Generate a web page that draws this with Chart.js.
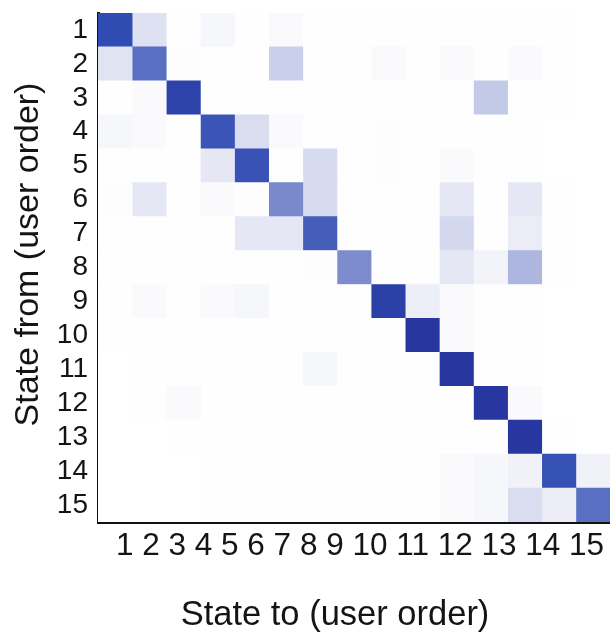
<!DOCTYPE html>
<html>
<head>
<meta charset="utf-8">
<script src="https://cdn.jsdelivr.net/npm/chart.js@4.4.1/dist/chart.umd.min.js"></script>
<style>
  html, body { margin: 0; padding: 0; background: #ffffff; }
  #wrap { width: 610px; height: 633px; position: relative; }
</style>
</head>
<body>
<div id="wrap"><canvas id="c"></canvas></div>
<script>
// ---- Data ----
const stateLabels = ['1','2','3','4','5','6','7','8','9','10','11','12','13','14','15'];
const xTickLabels = ['1','2','3','4','5','6','7','8','9','10','11','12','13','14','15'];
const yTickLabels = ['1','2','3','4','5','6','7','8','9','10','11','12','13','14','15'];
const xTitle = 'State to (user order)';
const yTitle = 'State from (user order)';

// transition intensity, row = state from, columns = state to 1..15
const from1  = [0.88,0.13,0.01,0.04,0.01,0.03,0.01,0.01,0.01,0.01,0.01,0.01,0.01,0.01,0.00];
const from2  = [0.12,0.68,0.02,0.01,0.01,0.22,0.01,0.01,0.03,0.01,0.03,0.01,0.03,0.01,0.00];
const from3  = [0.01,0.03,0.92,0.01,0.01,0.01,0.01,0.01,0.01,0.01,0.01,0.25,0.01,0.01,0.00];
const from4  = [0.04,0.03,0.01,0.83,0.15,0.03,0.01,0.01,0.02,0.01,0.01,0.01,0.01,0.00,0.00];
const from5  = [0.01,0.01,0.01,0.10,0.84,0.01,0.16,0.01,0.02,0.01,0.03,0.01,0.01,0.00,0.00];
const from6  = [0.02,0.10,0.01,0.03,0.02,0.52,0.16,0.01,0.01,0.01,0.10,0.01,0.10,0.01,0.00];
const from7  = [0.01,0.01,0.01,0.01,0.10,0.10,0.78,0.01,0.01,0.01,0.18,0.01,0.08,0.01,0.00];
const from8  = [0.01,0.01,0.01,0.01,0.01,0.01,0.02,0.50,0.01,0.01,0.10,0.05,0.33,0.01,0.00];
const from9  = [0.01,0.03,0.01,0.03,0.04,0.01,0.01,0.01,0.93,0.07,0.03,0.01,0.01,0.00,0.00];
const from10 = [0.01,0.01,0.01,0.01,0.01,0.01,0.01,0.01,0.01,0.98,0.03,0.01,0.01,0.00,0.00];
const from11 = [0.00,0.01,0.01,0.01,0.01,0.01,0.04,0.01,0.01,0.01,0.98,0.01,0.01,0.00,0.00];
const from12 = [0.00,0.01,0.03,0.01,0.01,0.01,0.01,0.01,0.01,0.01,0.01,0.98,0.03,0.00,0.00];
const from13 = [0.00,0.00,0.01,0.01,0.01,0.01,0.01,0.01,0.01,0.01,0.01,0.01,0.98,0.01,0.00];
const from14 = [0.00,0.00,0.00,0.01,0.01,0.01,0.01,0.01,0.01,0.01,0.03,0.04,0.06,0.85,0.06];
const from15 = [0.00,0.00,0.00,0.01,0.01,0.01,0.01,0.01,0.01,0.01,0.03,0.04,0.15,0.08,0.68];

const matrix = [from1,from2,from3,from4,from5,from6,from7,from8,from9,from10,from11,from12,from13,from14,from15];

// ---- Colour map: white -> dark blue ----
const cmapStops = [
  [0.00, [255,255,255]],
  [0.02, [253,253,254]],
  [0.05, [243,244,250]],
  [0.10, [229,231,244]],
  [0.25, [195,202,232]],
  [0.50, [125,140,205]],
  [0.70, [ 85,108,192]],
  [0.88, [ 48, 76,178]],
  [1.00, [ 38, 50,155]]
];
function cmap(v) {
  v = Math.max(0, Math.min(1, v));
  for (let i = 1; i < cmapStops.length; i++) {
    const [t1, c1] = cmapStops[i];
    const [t0, c0] = cmapStops[i-1];
    if (v <= t1) {
      const f = (v - t0) / (t1 - t0);
      const c = c0.map((a, k) => Math.round(a + (c1[k] - a) * f));
      return `rgb(${c[0]},${c[1]},${c[2]})`;
    }
  }
  return 'rgb(38,50,155)';
}

const FONT = '"Liberation Sans", Arial, Helvetica, sans-serif';
const TEXT_COLOR = '#141414';

// one stacked dataset per "to" column; each row contributes one unit cell
const datasets = stateLabels.map((toLabel, col) => ({
  label: 'to ' + toLabel,
  data: stateLabels.map(() => 1),
  backgroundColor: (ctx) => cmap(matrix[ctx.dataIndex][col]),
  borderWidth: 0,
  barPercentage: 1.0,
  categoryPercentage: 1.0
}));

// bottom tick labels drawn as a spaced text run, plus the two axis titles
const axisText = {
  id: 'axisText',
  afterDraw(chart) {
    const { ctx, chartArea } = chart;
    ctx.save();
    ctx.fillStyle = TEXT_COLOR;

    // x tick labels
    ctx.font = '31.5px ' + FONT;
    ctx.textAlign = 'left';
    ctx.textBaseline = 'alphabetic';
    let x = chartArea.left + 18;
    const y = chartArea.bottom + 33;
    xTickLabels.forEach((lab) => {
      ctx.fillText(lab, x, y);
      x += ctx.measureText(lab + ' ').width;
    });

    // x title
    ctx.font = '34.5px ' + FONT;
    ctx.textAlign = 'center';
    ctx.fillText(xTitle, (chartArea.left + chartArea.right) / 2 - 19, chartArea.bottom + 103);

    // y title (rotated)
    ctx.font = '34px ' + FONT;
    ctx.translate(38, (chartArea.top + chartArea.bottom) / 2 - 13);
    ctx.rotate(-Math.PI / 2);
    ctx.textAlign = 'center';
    ctx.fillText(yTitle, 0, 0);
    ctx.restore();
  }
};

new Chart(document.getElementById('c'), {
  type: 'bar',
  data: { labels: yTickLabels, datasets },
  options: {
    indexAxis: 'y',
    responsive: true,
    maintainAspectRatio: false,
    animation: false,
    layout: { padding: { top: 13, right: 0, bottom: 0, left: 0 } },
    plugins: { legend: { display: false }, tooltip: { enabled: false } },
    scales: {
      x: {
        type: 'linear',
        stacked: true,
        min: 0,
        max: 15,
        grid: { display: false, drawTicks: false },
        border: { display: true, color: '#111', width: 3 },
        ticks: { display: false },
        title: { display: false },
        afterFit(scale) { scale.height = 111; scale.paddingLeft = 0; scale.paddingRight = 0; }
      },
      y: {
        type: 'category',
        stacked: true,
        grid: { display: false, drawTicks: false },
        border: { display: true, color: '#111', width: 3 },
        ticks: {
          color: TEXT_COLOR,
          font: { family: FONT, size: 28 },
          padding: 10,
          autoSkip: false
        },
        title: { display: false },
        afterFit(scale) { scale.width = 98; scale.paddingTop = 0; scale.paddingBottom = 0; }
      }
    }
  },
  plugins: [axisText]
});
</script>
</body>
</html>
